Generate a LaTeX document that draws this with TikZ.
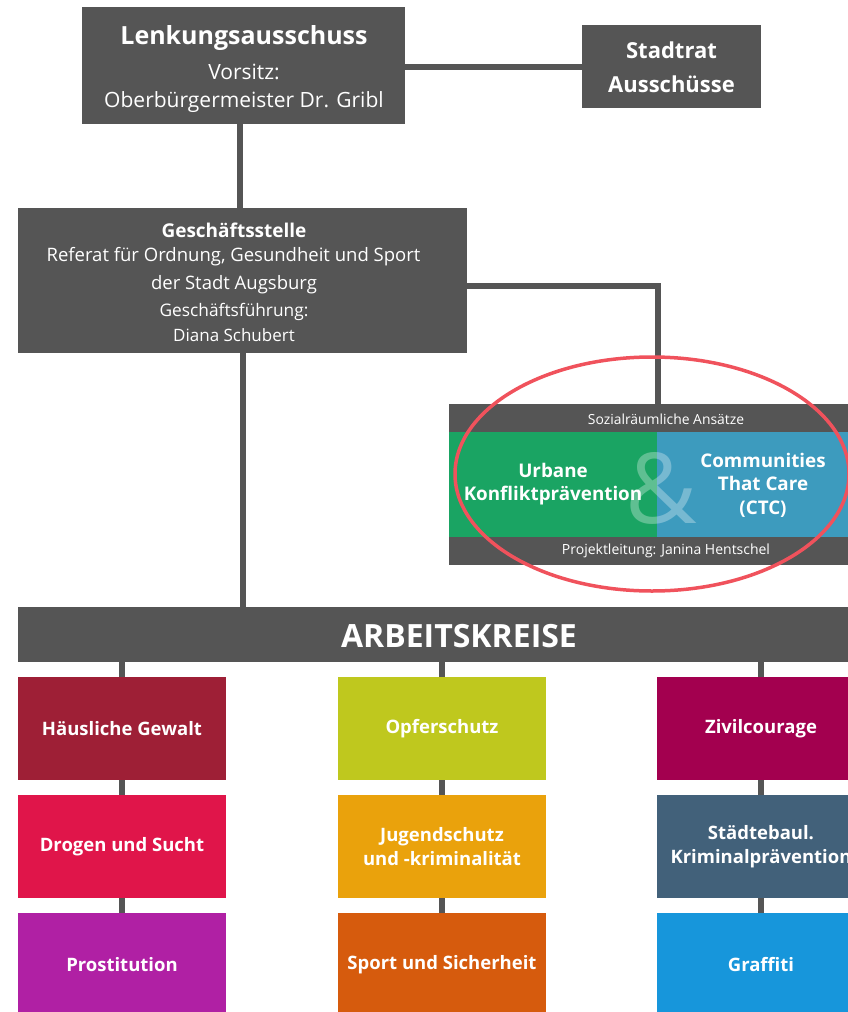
\documentclass[tikz,border=0pt]{standalone}
\usepackage{fontspec}
\setmainfont{Open Sans}
\definecolor{dk}{HTML}{555555}
\definecolor{cgreen}{HTML}{1AA463}
\definecolor{cblue}{HTML}{3D9BBE}
\definecolor{cring}{HTML}{F0525C}
\definecolor{c1}{HTML}{9E1F36}
\definecolor{c2}{HTML}{BFC81E}
\definecolor{c3}{HTML}{A3004F}
\definecolor{c4}{HTML}{E0154A}
\definecolor{c5}{HTML}{EAA20C}
\definecolor{c6}{HTML}{42617A}
\definecolor{c7}{HTML}{B020A4}
\definecolor{c8}{HTML}{D65B0D}
\definecolor{c9}{HTML}{1796DB}
\tikzset{
  box/.style={fill=dk, text=white, inner sep=0pt, outer sep=0pt, align=center},
  lbl/.style={text=white, inner sep=0pt},
  ak/.style={inner sep=0pt, outer sep=0pt, text=white, align=center,
    minimum width=208pt, minimum height=103pt, font=\bfseries\fontsize{18.5}{24}\selectfont},
  conn/.style={draw=dk, line width=6pt},
}
\begin{document}
\begin{tikzpicture}[x=1pt,y=-1pt]
\useasboundingbox (0,0) rectangle (848,1012);
\clip (0,0) rectangle (848,1012);
\coordinate (gs) at (243,353);
\coordinate (bend) at (658,286);
% boxes
\node[box, minimum width=323pt, minimum height=117pt] (lenk) at (243.5,65.5) {};
\node[box, minimum width=179pt, minimum height=83pt] (stadt) at (671.5,66.5) {};
\node[box, minimum width=449pt, minimum height=145pt] (gesch) at (242.5,280.5) {};
\node[box, minimum width=434pt, minimum height=161pt] (soz) at (666,484.5) {};
\node[box, minimum width=882pt, minimum height=55pt] (arb) at (459,634.5) {};
% connectors
\draw[conn] (lenk.east |- 0,67) -- (stadt.west |- 0,67);
\draw[conn] (lenk.south -| 240,0) -- (gesch.north -| 240,0);
\draw[conn] (gesch.east |- bend) -- (bend) -- (soz.north -| bend);
\draw[conn] (gesch.south -| gs) -- (arb.north -| gs);
% box texts
\node[lbl, font=\bfseries\fontsize{25}{30}\selectfont] (t1) at (244,38) {Lenkungsausschuss};
\node[lbl, font=\fontsize{21}{24}\selectfont] (t2) at (244,72) {Vorsitz:};
\node[lbl, font=\fontsize{21}{24}\selectfont] (t3) at (244,102) {Oberbürgermeister Dr. Gribl};
\node[lbl, font=\bfseries\fontsize{22}{25}\selectfont] (s1) at (671.5,50) {Stadtrat};
\node[lbl, font=\bfseries\fontsize{22}{25}\selectfont] (s2) at (671.5,84) {Ausschüsse};
\node[lbl, font=\bfseries\fontsize{19}{22}\selectfont] (g1) at (234,230) {Geschäftsstelle};
\node[lbl, font=\fontsize{18.5}{22}\selectfont] (g2) at (233.5,257) {Referat für Ordnung, Gesundheit und Sport};
\node[lbl, font=\fontsize{18.5}{22}\selectfont] (g3) at (234,285) {der Stadt Augsburg};
\node[lbl, font=\fontsize{17.3}{20}\selectfont] (g4) at (234,312) {Geschäftsführung:};
\node[lbl, font=\fontsize{17}{20}\selectfont] (g5) at (234,335) {Diana Schubert};
% sozialraum
\fill[cgreen] (449,432) rectangle (657,537);
\fill[cblue] (657,432) rectangle (883,537);
\node[text=white, opacity=0.3, font=\fontsize{98}{110}\selectfont] (amp) at (661,488) {\&};
\node[lbl, font=\fontsize{13.9}{16}\selectfont] (z1) at (666,419) {Sozialräumliche Ansätze};
\node[lbl, align=center, font=\bfseries\fontsize{18.8}{23.5}\selectfont] (z2) at (553,484) {Urbane\\Konfliktprävention};
\node[lbl, align=center, font=\bfseries\fontsize{18.8}{23.5}\selectfont] (z3) at (763,485) {Communities\\That Care\\(CTC)};
\node[lbl, font=\fontsize{14}{16}\selectfont] (z4) at (666,551) {Projektleitung: Janina Hentschel};
\draw[cring, line width=3.5pt] (652,474) ellipse [x radius=197, y radius=117];
\node[lbl, font=\bfseries\fontsize{32}{38}\selectfont] (arbt) at (459,636) {ARBEITSKREISE};
% Arbeitskreise connectors
\foreach \x in {122,442,761}{
  \draw[conn] (\x,662) -- (\x,677);
  \draw[conn] (\x,780) -- (\x,795);
  \draw[conn] (\x,898) -- (\x,913);
}
\node[ak, fill=c1] (h) at (122,728.5) {Häusliche Gewalt};
\node[ak, fill=c2] (o) at (442,728.5) {Opferschutz};
\node[ak, fill=c3] (z) at (761,728.5) {Zivilcourage};
\node[ak, fill=c4] (d) at (122,846.5) {Drogen und Sucht};
\node[ak, fill=c5] (j) at (442,846.5) {Jugendschutz\\und -kriminalität};
\node[ak, fill=c6] (st) at (761,846.5) {Städtebaul.\\Kriminalprävention};
\node[ak, fill=c7] (p) at (122,964.5) {Prostitution};
\node[ak, fill=c8] (sp) at (442,964.5) {Sport und Sicherheit};
\node[ak, fill=c9] (gr) at (761,964.5) {Graffiti};
\end{tikzpicture}
\end{document}
